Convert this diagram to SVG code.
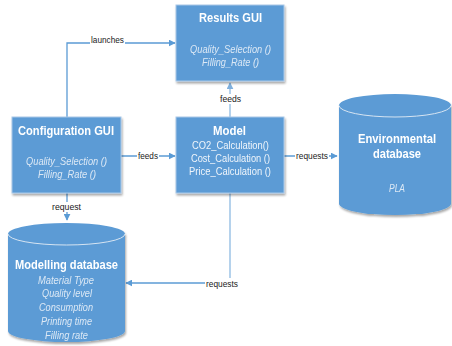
<svg xmlns="http://www.w3.org/2000/svg" width="452" height="346" viewBox="0 0 452 346">
<defs>
<style>
.box{fill:#5B9BD5;stroke:#A9C8E8;stroke-width:1}
.cyl{fill:#5B9BD5;stroke:none}
.rim{fill:none;stroke:#D6E4F2;stroke-width:1}
.t{font-family:"Liberation Sans",Arial,sans-serif;font-weight:bold;font-size:12.5px;fill:#FFFFFF;text-anchor:middle}
.s{font-family:"Liberation Sans",Arial,sans-serif;font-style:italic;font-size:10px;fill:#DCE8F5;text-anchor:middle}
.m{font-family:"Liberation Sans",Arial,sans-serif;font-size:10px;fill:#F0F5FB;text-anchor:middle}
.l{font-family:"Liberation Sans",Arial,sans-serif;font-size:9px;fill:#222222;text-anchor:middle}
.c{fill:none;stroke:#5B9BD5;stroke-width:1.3}
.c2{fill:none;stroke:#9DC3E6;stroke-width:1.5}
.lb{fill:#FFFFFF}
</style>
<filter id="sh" x="-10%" y="-10%" width="125%" height="125%">
<feGaussianBlur in="SourceAlpha" stdDeviation="1.2"/>
<feOffset dx="1" dy="1.5" result="b"/>
<feComponentTransfer><feFuncA type="linear" slope="0.35"/></feComponentTransfer>
<feMerge><feMergeNode/><feMergeNode in="SourceGraphic"/></feMerge>
</filter>
<marker id="ar" viewBox="0 0 10 10" refX="9" refY="5" markerWidth="7" markerHeight="7" markerUnits="userSpaceOnUse" orient="auto">
<path d="M0,0 L10,5 L0,10 z" fill="#5B9BD5"/>
</marker>
<marker id="ar2" viewBox="0 0 10 10" refX="9" refY="5" markerWidth="7" markerHeight="7" markerUnits="userSpaceOnUse" orient="auto">
<path d="M0,0 L10,5 L0,10 z" fill="#7FB0DE"/>
</marker>
</defs>
<rect width="452" height="346" fill="#FFFFFF"/>

<g id="connectors">
<path class="c" d="M67,117 V43 H175" marker-end="url(#ar)"/>
<path class="c" d="M121,156 H175" marker-end="url(#ar)"/>
<path class="c2" d="M230,117 V83" marker-end="url(#ar2)"/>
<path class="c" d="M284,156 H337" marker-end="url(#ar)"/>
<path class="c" d="M67,193 V220" marker-end="url(#ar)"/>
<path class="c2" d="M230,193 V283"/>
<path class="c" d="M230,283 H126" marker-end="url(#ar)"/>
<rect class="lb" x="90" y="35" width="35" height="10"/>
<text class="l" x="107.5" y="43" textLength="33" lengthAdjust="spacingAndGlyphs">launches</text>
<rect class="lb" x="137" y="151" width="22" height="10"/>
<text class="l" x="148" y="159" textLength="20" lengthAdjust="spacingAndGlyphs">feeds</text>
<rect class="lb" x="219" y="94" width="23" height="10"/>
<text class="l" x="230.5" y="102" textLength="21" lengthAdjust="spacingAndGlyphs">feeds</text>
<rect class="lb" x="295" y="151" width="34" height="10"/>
<text class="l" x="312" y="159" textLength="32" lengthAdjust="spacingAndGlyphs">requests</text>
<rect class="lb" x="51" y="202" width="31" height="10"/>
<text class="l" x="66.5" y="210" textLength="29" lengthAdjust="spacingAndGlyphs">request</text>
<rect class="lb" x="205" y="278" width="34" height="11"/>
<text class="l" x="222" y="287" textLength="32" lengthAdjust="spacingAndGlyphs">requests</text>
</g>

<g id="results-gui" filter="url(#sh)">
<rect class="box" x="176" y="5" width="108" height="76"/>
<text class="t" x="230.5" y="22" textLength="63" lengthAdjust="spacingAndGlyphs">Results GUI</text>
<text class="s" x="230.5" y="53" textLength="81" lengthAdjust="spacingAndGlyphs">Quality_Selection ()</text>
<text class="s" x="230.5" y="66" textLength="57" lengthAdjust="spacingAndGlyphs">Filling_Rate ()</text>
</g>

<g id="configuration-gui" filter="url(#sh)">
<rect class="box" x="12" y="117" width="109" height="76"/>
<text class="t" x="66" y="135" textLength="96" lengthAdjust="spacingAndGlyphs">Configuration GUI</text>
<text class="s" x="66.5" y="165" textLength="81" lengthAdjust="spacingAndGlyphs">Quality_Selection ()</text>
<text class="s" x="67" y="178" textLength="58" lengthAdjust="spacingAndGlyphs">Filling_Rate ()</text>
</g>

<g id="model" filter="url(#sh)">
<rect class="box" x="176" y="117" width="108" height="76"/>
<text class="t" x="229.5" y="135" textLength="33" lengthAdjust="spacingAndGlyphs">Model</text>
<text class="m" x="230.5" y="149" textLength="77" lengthAdjust="spacingAndGlyphs">CO2_Calculation()</text>
<text class="m" x="230.5" y="162" textLength="79" lengthAdjust="spacingAndGlyphs">Cost_Calculation ()</text>
<text class="m" x="230" y="175" textLength="82" lengthAdjust="spacingAndGlyphs">Price_Calculation ()</text>
</g>

<g id="environmental-database" filter="url(#sh)">
<path class="cyl" d="M339,105.5 A56,11.5 0 0 1 451,105.5 V203.5 A56,11.5 0 0 1 339,203.5 Z"/>
<path class="rim" d="M339,105.5 A56,11.5 0 0 0 451,105.5"/>
<text class="t" x="397" y="143" textLength="78" lengthAdjust="spacingAndGlyphs">Environmental</text>
<text class="t" x="397" y="158" textLength="48" lengthAdjust="spacingAndGlyphs">database</text>
<text class="s" x="397" y="192" textLength="16" lengthAdjust="spacingAndGlyphs">PLA</text>
</g>

<g id="modelling-database" filter="url(#sh)">
<path class="cyl" d="M8,234 A58.5,11 0 0 1 125,234 V331 A58.5,11 0 0 1 8,331 Z"/>
<path class="rim" d="M8,234 A58.5,11 0 0 0 125,234"/>
<text class="t" x="66.5" y="269" textLength="103" lengthAdjust="spacingAndGlyphs">Modelling database</text>
<text class="s" x="66" y="284" textLength="56" lengthAdjust="spacingAndGlyphs">Material Type</text>
<text class="s" x="67" y="297" textLength="50" lengthAdjust="spacingAndGlyphs">Quality level</text>
<text class="s" x="66" y="311" textLength="54" lengthAdjust="spacingAndGlyphs">Consumption</text>
<text class="s" x="66.5" y="325" textLength="51" lengthAdjust="spacingAndGlyphs">Printing time</text>
<text class="s" x="66.5" y="339" textLength="43" lengthAdjust="spacingAndGlyphs">Filling rate</text>
</g>
</svg>
